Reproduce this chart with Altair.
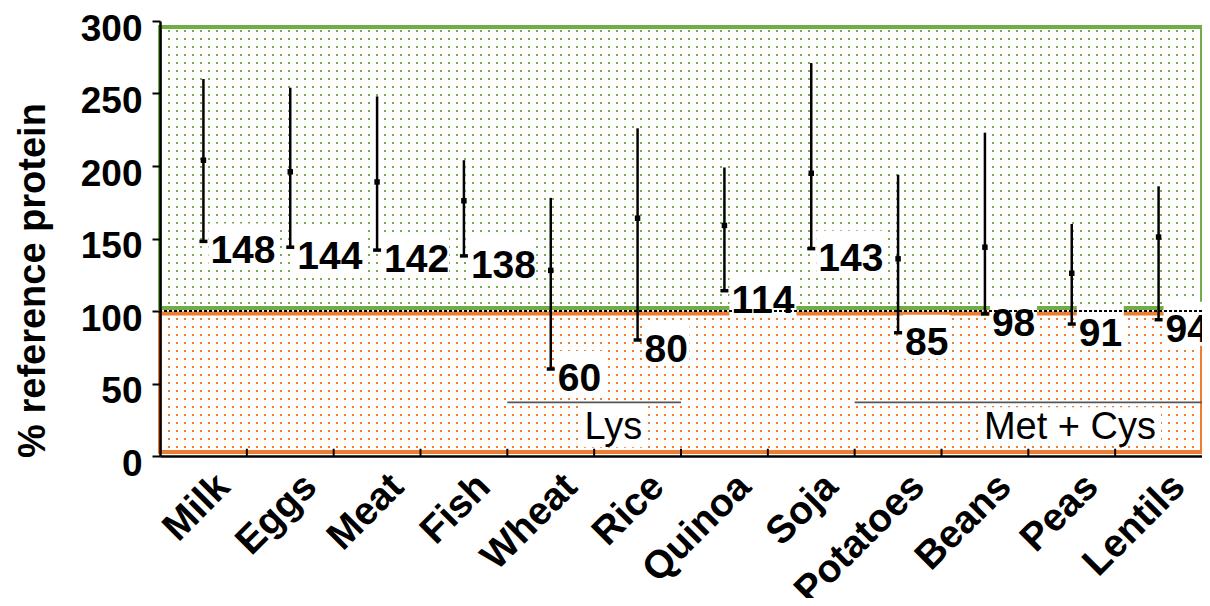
import altair as alt
import pandas as pd

# ---------------- data ----------------
foods = ["Milk", "Eggs", "Meat", "Fish", "Wheat", "Rice",
         "Quinoa", "Soja", "Potatoes", "Beans", "Peas", "Lentils"]
low = [148, 144, 142, 138, 60, 80, 114, 143, 85, 98, 91, 94]
mid = [204, 196, 189, 176, 128, 164, 159, 195, 136, 144, 126, 151]
high = [260, 254, 248, 204, 178, 226, 199, 271, 194, 223, 160, 186]

reference_level = 100
y_max = 300
y_ticks = [0, 50, 100, 150, 200, 250, 300]

groups = ["Lys", "Met + Cys"]
group_first = ["Wheat", "Potatoes"]
group_last = ["Rice", "Lentils"]
group_level = [37, 37]
group_label_at = ["Rice", "Peas"]

zone_low = [reference_level, 0]
zone_high = [y_max, reference_level]

# ---------------- style ----------------
GREEN = "#70AD47"
ORANGE = "#ED7D31"
FONT = "Liberation Sans"
W, H = 1042, 435
PX = H / y_max            # pixels per unit on the y scale
DOT_STEP = 8 / PX         # dotted texture: one row every 8 px

df = pd.DataFrame({"food": foods, "low": low, "mid": mid, "high": high})
gdf = pd.DataFrame({"group": groups, "first": group_first, "last": group_last,
                    "level": group_level, "at": group_label_at})
zdf = pd.DataFrame({"lo": zone_low, "hi": zone_high})

xscale = alt.Scale(domain=foods, paddingInner=0, paddingOuter=0)
yscale = alt.Scale(domain=[0, y_max], nice=False, zero=True)

x_axis = alt.Axis(title=None, labelAngle=-45, labelAlign="right", labelBaseline="middle",
                  labelFont=FONT, labelFontSize=39, labelFontWeight="bold", labelColor="black",
                  labelPadding=24, labelOffset=20, ticks=False, domainColor="black",
                  domainWidth=2.5, zindex=1, labelLimit=0)
y_axis = alt.Axis(values=y_ticks, title="% reference protein", titleFont=FONT, titleFontSize=38,
                  titleFontWeight="bold", titleColor="black", titlePadding=28, titleY=259,
                  labelFont=FONT, labelFontSize=37, labelFontWeight="bold", labelColor="black",
                  labelPadding=10, labelOffset=8, tickSize=8, tickWidth=2, tickColor="black",
                  domainColor="black", domainWidth=2.5, grid=False, zindex=1)


def X(field, **kw):
    return alt.X(f"{field}:N", scale=xscale, axis=x_axis, **kw)


def Y(field):
    return alt.Y(f"{field}:Q", scale=yscale, axis=y_axis)


def YD(value):
    return alt.Y(datum=value, scale=yscale, axis=y_axis)


# dotted texture (decorative rows on an 8 px grid)
green_start = y_max - (10 + 8 * 34) / PX
orange_start = y_max - (10 + 8 * 52) / PX
green_dots = alt.Chart(alt.sequence(green_start, 295.0, DOT_STEP, as_="v")).mark_rule(
    color=GREEN, strokeWidth=2, strokeDash=[2, 6]).encode(y=Y("v"))
orange_dots = alt.Chart(alt.sequence(orange_start, 96.0, DOT_STEP, as_="v")).mark_rule(
    color=ORANGE, strokeWidth=2, strokeDash=[2, 6]).encode(y=Y("v"))

green_frame = alt.Chart(zdf.iloc[[0]]).mark_rect(
    fillOpacity=0, stroke=GREEN, strokeWidth=4, yOffset=6, y2Offset=-3
).encode(y=Y("hi"), y2="lo:Q")
orange_frame = alt.Chart(zdf.iloc[[1]]).mark_rect(
    fillOpacity=0, stroke=ORANGE, strokeWidth=4, yOffset=2.5, y2Offset=-4
).encode(y=Y("hi"), y2="lo:Q")

box3 = "M0.5,-1.8H7.2V2.6H0.5Z"
box2 = "M0.5,-1.8H5.2V2.6H0.5Z"
label_boxes = alt.Chart(df).transform_calculate(
    shp=f"datum.low >= 100 ? '{box3}' : '{box2}'"
).mark_point(filled=True, color="white", opacity=1, size=400, strokeWidth=0).encode(
    x=X("food"), y=Y("low"), shape=alt.Shape("shp:N", scale=None))

threshold = alt.Chart(df).mark_rule(color="black", strokeWidth=2, strokeDash=[3, 2]).encode(
    y=YD(reference_level))

group_lines = alt.Chart(gdf).mark_rule(color="#555555", strokeWidth=1.6).encode(
    x=X("first", bandPosition=0),
    x2=alt.X2("last:N", bandPosition=1),
    y=Y("level"))

group_box_paths = ["M-3.3,0.3H3.2V4.5H-3.3Z", "M-9.2,0.5H9.1V3.8H-9.2Z"]
group_band_pos = [0.22, 0.48]
group_boxes = []
group_texts = []
for i in range(len(groups)):
    gi = gdf.iloc[[i]]
    group_boxes.append(alt.Chart(gi).mark_point(
        shape=group_box_paths[i], filled=True, color="white", opacity=1, size=400, strokeWidth=0
    ).encode(x=X("at", bandPosition=group_band_pos[i]), y=Y("level")))
    group_texts.append(alt.Chart(gi).mark_text(
        font=FONT, fontSize=38, color="black", align="center", baseline="middle", dy=26
    ).encode(x=X("at", bandPosition=group_band_pos[i]), y=Y("level"), text="group:N"))

whiskers = alt.Chart(df).mark_rule(color="black", strokeWidth=2.5).encode(
    x=X("food"), y=Y("low"), y2="high:Q")
caps = alt.Chart(df).mark_tick(color="black", size=8, thickness=3.5, opacity=1).encode(
    x=X("food"), y=Y("low"))
mids = alt.Chart(df).mark_square(color="black", size=30, opacity=1).encode(
    x=X("food"), y=Y("mid"))
values = alt.Chart(df).mark_text(
    font=FONT, fontSize=39, fontWeight="bold", color="black", align="left",
    baseline="middle", dx=7, dy=10
).encode(x=X("food"), y=Y("low"), text="low:Q")

x_ticks = alt.Chart(pd.DataFrame({"food": foods[1:]})).mark_rule(
    color="black", strokeWidth=2).encode(
    x=X("food", bandPosition=0), y=YD(0), y2=alt.Y2(datum=5))

chart = alt.layer(
    green_dots, orange_dots, green_frame, orange_frame, label_boxes,
    *group_boxes, threshold, group_lines, whiskers, caps, mids, values,
    *group_texts, x_ticks
).properties(
    width=W, height=H,
    autosize=alt.AutoSizeParams(type="none"),
    padding={"left": 152, "top": 13, "right": 0, "bottom": 142}
).configure(font=FONT).configure_view(stroke=None)

chart.save("out.html", embed_options={"renderer": "svg", "actions": False})
